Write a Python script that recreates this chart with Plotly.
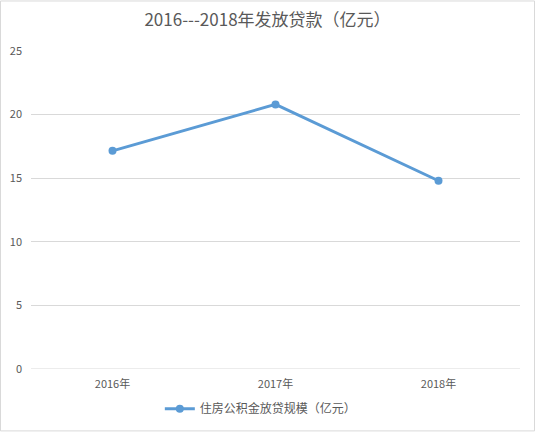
import plotly.graph_objects as go

categories = ["2016年", "2017年", "2018年"]
values = [17.15, 20.8, 14.8]
series_name = "住房公积金放贷规模（亿元）"
title_text = "2016---2018年发放贷款（亿元）"

W, H = 535, 435
ml, mr, mt, mb = 31, 15, 51, 63
pw, ph = W - ml - mr, H - mt - mb

fig = go.Figure()
fig.add_trace(go.Scatter(
    x=categories, y=values, mode="lines+markers", name=series_name,
    line=dict(color="#5B9BD5", width=3),
    marker=dict(color="#5B9BD5", size=8),
))

def px_x(p):
    return (p - ml) / pw

def px_y(p):
    return (H - mb - p) / ph

fig.update_layout(
    width=W, height=H,
    margin=dict(l=ml, r=mr, t=mt, b=mb),
    paper_bgcolor="white", plot_bgcolor="white",
    font=dict(family="Noto Sans CJK SC, sans-serif", color="#595959", size=11),
    title=dict(text=title_text, x=0.5, xanchor="center", y=1 - 20 / H, yanchor="middle",
               font=dict(size=17, color="#595959")),
    xaxis=dict(range=[-0.5, 2.5], showgrid=False, showline=False, zeroline=False,
               ticks="", automargin=False, ticklabelstandoff=7,
               tickfont=dict(size=11, color="#595959")),
    yaxis=dict(range=[0, 25], dtick=5, showgrid=True, gridcolor="#D9D9D9", gridwidth=1,
               zeroline=False, showline=False, ticks="", ticklabelstandoff=8,
               automargin=False, tickfont=dict(size=11, color="#595959")),
    showlegend=True,
    legend=dict(orientation="h", x=0.47, xanchor="center", y=px_y(412), yanchor="middle",
                font=dict(size=12, color="#595959"), bgcolor="rgba(0,0,0,0)"),
    shapes=[dict(type="line", xref="paper", yref="y", x0=0, x1=1, y0=0, y1=0,
                 line=dict(color="#D9D9D9", width=1)),
            dict(type="rect", xref="paper", yref="paper",
                 x0=px_x(0.5), x1=px_x(W - 0.5), y0=px_y(H - 0.5), y1=px_y(0.5),
                 line=dict(color="#D9D9D9", width=1), fillcolor="rgba(0,0,0,0)", layer="below")],
)

fig.write_html("out.html", config={"displayModeBar": False},
               post_script="document.body.style.margin='0';document.body.style.overflow='hidden';")
